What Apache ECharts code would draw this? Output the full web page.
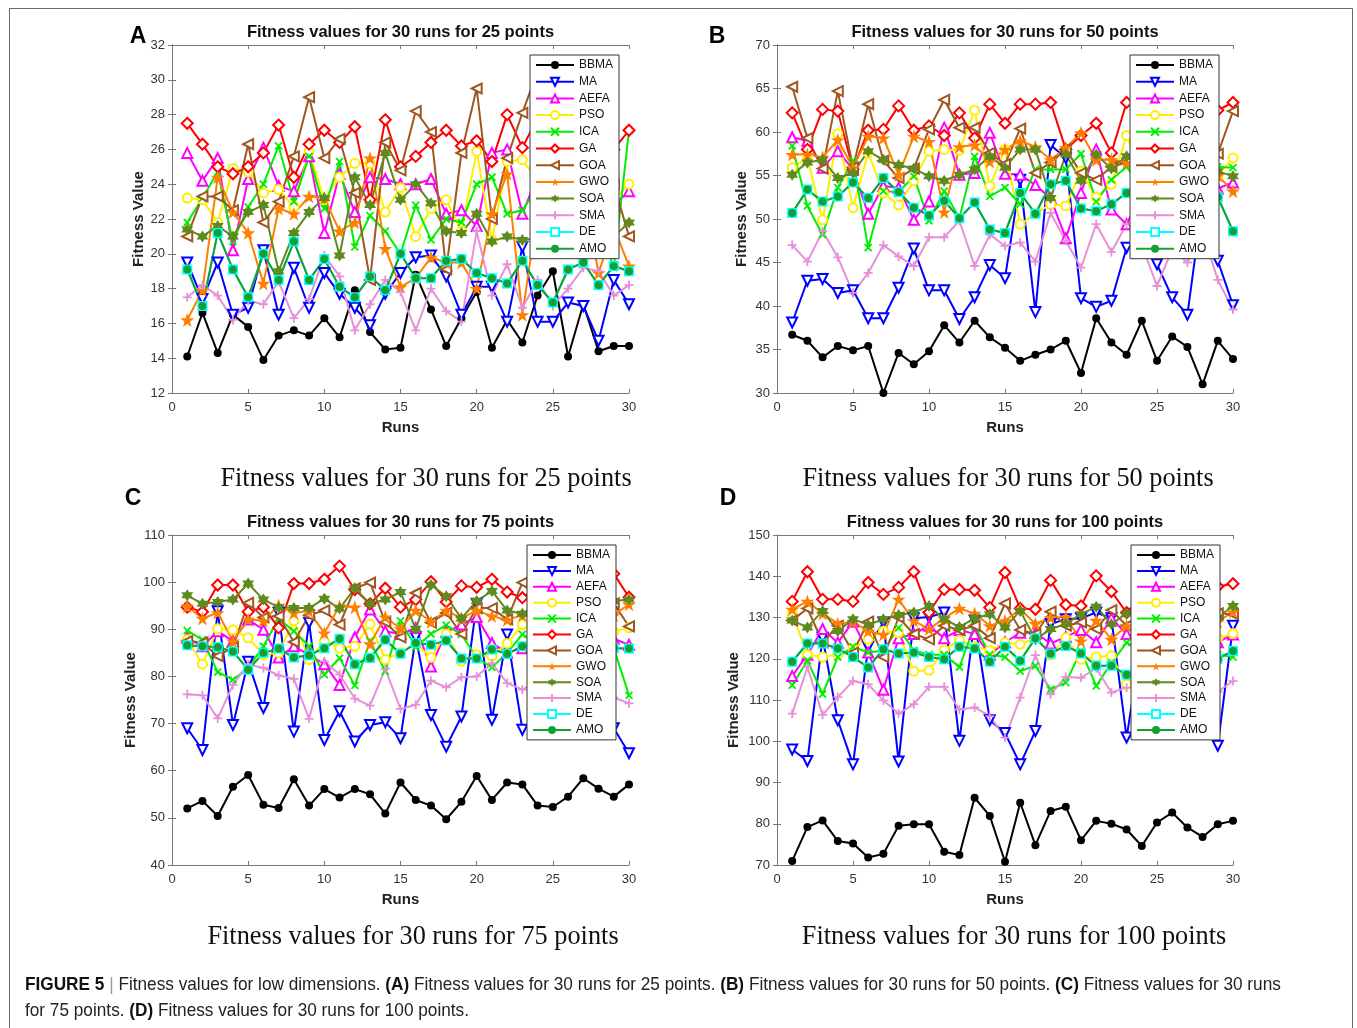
<!DOCTYPE html>
<html>
<head>
<meta charset="utf-8">
<script src="https://cdn.jsdelivr.net/npm/echarts@6/dist/echarts.min.js"></script>
<style>
html,body{margin:0;padding:0;background:#fff;}
#chart{width:1357px;height:1028px;}
</style>
</head>
<body>
<div id="chart"></div>
<script>
const runs = [1,2,3,4,5,6,7,8,9,10,11,12,13,14,15,16,17,18,19,20,21,22,23,24,25,26,27,28,29,30];
const seriesNames = ['BBMA','MA','AEFA','PSO','ICA','GA','GOA','GWO','SOA','SMA','DE','AMO'];
const yTicksA = [12,14,16,18,20,22,24,26,28,30,32];
const yTicksB = [30,35,40,45,50,55,60,65,70];
const yTicksC = [40,50,60,70,80,90,100,110];
const yTicksD = [70,80,90,100,110,120,130,140,150];
const xTicks = [0,5,10,15,20,25,30];

// Panel A: 25 points
const A_BBMA = [14.1,16.6,14.3,16.5,15.8,13.9,15.3,15.6,15.3,16.3,15.2,17.9,15.5,14.5,14.6,18.8,16.8,14.7,16.3,17.8,14.6,16.2,14.9,17.6,19.0,14.1,17.1,14.4,14.7,14.7];
const A_MA = [19.5,17.4,19.5,16.5,16.9,20.2,16.5,19.2,16.9,18.9,17.7,16.9,15.9,17.7,18.9,19.8,19.9,18.7,16.5,18.1,18.1,16.1,20.4,16.1,16.1,17.2,17.0,15.0,18.5,17.1];
const A_AEFA = [25.8,24.2,25.5,20.2,24.3,26.1,23.9,23.6,25.6,21.2,24.6,22.4,24.4,24.3,24.0,24.0,24.3,22.3,22.5,21.6,25.8,26.0,22.3,24.5,23.0,25.0,23.8,24.6,22.8,23.6];
const A_PSO = [23.2,23.1,21.8,24.9,24.7,23.5,23.7,22.7,25.9,23.1,24.4,25.2,25.2,22.4,23.8,21.0,22.6,23.1,21.3,25.9,20.8,25.3,25.4,24.2,22.8,25.6,24.0,22.5,23.1,24.0];
const A_ICA = [21.8,23.2,24.7,20.7,22.7,24.0,26.2,23.0,25.6,22.6,25.3,20.4,22.2,21.3,20.0,22.8,20.8,22.0,21.8,24.0,24.4,22.3,22.5,23.8,21.2,22.6,20.5,21.7,19.2,27.1];
const A_GA = [27.5,26.3,25.0,24.6,25.0,25.8,27.4,24.4,26.3,27.1,26.4,27.3,23.1,27.7,25.0,25.6,26.4,27.1,26.2,26.5,25.3,28.0,26.1,27.8,26.0,28.5,25.8,27.2,26.0,27.1];
const A_GOA = [21.0,23.3,23.3,22.5,26.3,21.8,23.0,25.6,29.0,25.5,26.6,23.5,18.5,26.4,24.8,28.2,27.0,19.1,25.8,29.5,22.0,25.5,28.1,30.5,26.5,23.5,28.7,25.0,24.0,21.0];
const A_GWO = [16.2,17.9,24.4,22.4,21.2,18.3,22.6,22.3,23.3,23.2,21.3,21.8,25.5,20.3,18.1,18.6,19.8,19.5,19.5,18.0,22.3,24.6,16.5,22.5,24.0,21.0,23.5,18.9,21.5,19.3];
const A_SOA = [21.4,21.0,21.6,21.0,22.4,22.8,19.0,21.2,22.4,23.2,19.9,24.4,22.8,25.8,23.1,24.0,22.9,21.3,21.2,22.3,20.7,21.0,20.8,20.9,20.5,21.5,20.8,22.5,21.0,21.8];
const A_SMA = [17.5,18.2,17.6,16.2,17.3,17.1,18.4,16.3,17.4,19.9,18.7,15.6,17.1,18.5,17.8,15.6,18.0,16.7,16.1,21.3,17.6,19.4,16.9,18.5,17.0,18.0,19.2,19.0,17.6,18.2];
const A_DE = [19.1,17.0,21.2,19.1,17.5,20.0,18.5,20.7,18.5,19.7,18.1,17.5,18.7,17.9,20.0,18.6,18.6,19.6,19.7,18.9,18.6,18.3,19.6,18.2,17.2,19.1,19.5,18.2,19.3,19.0];
const A_AMO = [19.1,17.0,21.2,19.1,17.5,20.0,18.5,20.7,18.5,19.7,18.1,17.5,18.7,17.9,20.0,18.6,18.6,19.6,19.7,18.9,18.6,18.3,19.6,18.2,17.2,19.1,19.5,18.2,19.3,19.0];

// Panel B: 50 points
const B_BBMA = [36.7,36.0,34.1,35.4,34.9,35.4,30.0,34.6,33.3,34.8,37.8,35.8,38.3,36.4,35.2,33.7,34.4,35.0,36.0,32.3,38.6,35.8,34.4,38.3,33.7,36.5,35.3,31.0,36.0,33.9];
const B_MA = [38.1,42.9,43.1,41.5,41.8,38.6,38.6,42.1,46.6,41.8,41.8,38.5,41.0,44.7,43.2,54.5,39.3,58.5,57.0,40.9,39.9,40.6,46.7,48.0,44.8,41.0,39.0,52.0,45.2,40.1];
const B_AEFA = [59.4,59.0,55.9,57.8,55.7,50.6,53.8,53.6,49.9,52.0,60.5,55.1,55.3,59.9,55.2,55.1,53.9,52.4,47.8,53.0,58.0,51.1,49.4,53.0,56.0,52.0,55.0,54.0,53.5,54.2];
const B_PSO = [55.9,57.0,49.9,59.8,51.3,57.6,53.0,51.6,54.4,57.8,58.0,57.9,62.5,53.8,58.0,49.4,50.6,51.7,51.5,55.5,52.5,54.0,59.6,55.0,57.5,54.0,56.0,55.5,55.0,57.0];
const B_ICA = [58.4,51.5,48.2,53.6,56.7,46.7,53.2,53.1,54.9,49.8,53.2,50.1,57.2,52.6,53.6,51.7,55.7,55.7,55.7,57.5,52.0,54.5,56.0,53.5,55.0,52.5,54.0,55.5,56.0,55.9];
const B_GA = [62.2,58.0,62.6,62.4,55.7,60.2,60.3,63.0,60.2,60.7,59.6,62.2,59.3,63.2,61.0,63.2,63.2,63.4,58.0,59.6,61.0,57.6,63.4,62.0,60.5,63.0,59.5,61.5,62.5,63.4];
const B_GOA = [65.2,59.3,55.8,64.7,55.9,63.2,56.7,54.7,55.8,60.3,63.7,60.5,60.5,57.6,56.3,60.4,55.3,56.5,58.0,55.3,54.5,56.0,56.5,58.0,60.0,57.0,56.0,58.5,57.5,62.4];
const B_GWO = [57.4,57.4,57.1,59.1,55.9,59.5,59.3,55.1,59.5,58.9,50.8,58.3,58.5,56.6,58.0,59.0,58.3,56.8,58.2,59.9,56.8,56.8,56.5,57.0,58.0,55.5,57.5,56.5,55.0,53.2];
const B_SOA = [55.1,56.5,56.8,54.7,55.3,57.8,56.8,56.2,55.8,54.9,54.4,55.1,55.7,57.2,55.9,58.0,58.0,52.4,57.4,54.4,57.4,55.8,57.2,56.0,55.5,56.5,55.0,56.0,55.5,54.9];
const B_SMA = [47.0,45.1,48.6,45.6,41.5,43.8,47.0,45.7,44.6,47.9,47.9,49.8,44.6,48.2,46.9,47.3,45.1,50.7,47.5,44.4,49.4,46.2,49.4,47.0,42.3,46.5,45.0,48.5,43.0,39.6];
const B_DE = [50.7,53.4,52.0,52.6,54.2,52.4,54.7,53.1,51.3,50.4,52.1,50.1,51.9,48.8,48.4,53.0,50.6,54.0,54.4,51.2,50.9,51.7,53.0,52.5,51.5,53.0,52.0,51.0,52.5,48.6];
const B_AMO = [50.7,53.4,52.0,52.6,54.2,52.4,54.7,53.1,51.3,50.4,52.1,50.1,51.9,48.8,48.4,53.0,50.6,54.0,54.4,51.2,50.9,51.7,53.0,52.5,51.5,53.0,52.0,51.0,52.5,48.6];

// Panel C: 75 points
const C_BBMA = [52.0,53.6,50.4,56.6,59.1,52.8,52.1,58.2,52.6,56.1,54.3,56.1,55.0,50.9,57.5,53.8,52.6,49.7,53.4,58.9,53.8,57.5,57.1,52.6,52.3,54.5,58.4,56.2,54.5,57.1];
const C_MA = [69.0,64.4,93.8,69.7,83.1,73.3,93.5,68.3,91.4,66.5,72.6,66.2,69.7,70.3,66.9,88.3,71.8,65.1,71.5,95.4,70.8,88.9,68.7,72.0,88.0,70.0,86.0,72.0,69.0,63.7];
const C_AEFA = [88.2,86.4,89.6,87.5,92.1,89.9,84.0,86.4,84.6,82.6,78.2,88.3,94.2,89.6,89.0,90.3,82.1,89.4,91.0,92.6,87.1,85.0,86.0,87.0,88.5,86.0,87.5,89.0,88.0,86.7];
const C_PSO = [87.8,82.6,90.1,89.9,88.2,84.6,85.0,91.8,83.6,87.5,86.0,86.4,91.1,83.6,85.0,87.0,84.0,89.0,83.2,84.6,84.3,87.0,91.0,88.0,86.5,89.0,87.0,88.5,89.5,90.3];
const C_ICA = [89.7,87.8,80.9,79.3,81.8,86.4,92.3,89.6,86.4,80.4,83.9,78.1,87.5,81.1,91.8,86.2,89.0,90.9,88.9,84.0,81.9,85.0,88.9,87.0,89.0,86.0,88.0,87.5,86.0,76.0];
const C_GA = [94.7,93.7,99.4,99.4,93.7,94.7,90.3,99.7,99.7,100.6,103.4,98.4,95.4,98.7,94.7,96.3,100.1,95.8,99.2,98.9,100.6,97.9,96.7,99.0,97.5,100.5,98.5,100.0,101.8,96.8];
const C_GOA = [87.5,87.2,84.3,86.2,95.6,92.5,92.8,87.3,93.0,94.0,91.0,98.7,99.9,91.5,88.3,97.7,91.4,93.5,89.0,94.5,94.5,92.1,99.9,96.0,95.0,97.5,94.0,96.0,95.5,90.6];
const C_GWO = [94.9,92.3,93.5,87.5,92.1,91.8,95.1,93.5,93.8,89.2,94.9,94.7,86.9,92.6,90.1,94.0,91.6,94.0,92.3,94.0,92.8,92.0,93.0,92.5,94.0,93.5,92.0,94.5,93.0,95.3];
const C_SOA = [97.2,95.4,95.8,96.3,99.7,96.3,94.7,94.5,94.5,96.5,94.4,98.7,95.4,96.3,97.9,90.1,99.4,97.0,92.3,96.0,98.1,94.0,93.3,95.5,97.0,94.5,96.5,95.0,96.0,96.3];
const C_SMA = [76.2,76.0,71.1,78.2,82.6,81.8,80.2,79.5,71.0,83.2,80.4,75.3,73.8,81.6,73.1,74.0,79.1,77.7,79.8,80.0,82.8,78.6,77.2,79.0,77.5,79.5,78.0,76.5,75.5,74.3];
const C_DE = [86.6,86.4,86.2,85.3,81.4,85.0,85.9,84.0,84.5,86.0,88.0,82.6,83.9,87.8,84.8,87.1,86.7,87.6,83.8,83.8,85.7,84.8,86.4,85.5,86.0,84.5,86.5,85.0,86.0,85.9];
const C_AMO = [86.6,86.4,86.2,85.3,81.4,85.0,85.9,84.0,84.5,86.0,88.0,82.6,83.9,87.8,84.8,87.1,86.7,87.6,83.8,83.8,85.7,84.8,86.4,85.5,86.0,84.5,86.5,85.0,86.0,85.9];

// Panel D: 100 points
const D_BBMA = [71.0,79.2,80.8,75.8,75.2,71.8,72.7,79.5,79.9,79.9,73.2,72.4,86.3,81.9,70.8,85.1,74.8,83.1,84.1,76.0,80.7,80.0,78.6,74.6,80.3,82.7,79.1,76.8,79.9,80.7];
const D_MA = [98.0,95.2,125.1,105.1,94.4,122.9,128.8,95.1,129.8,130.1,131.2,100.1,129.3,105.1,102.0,94.4,102.5,128.4,129.6,129.8,131.2,129.8,100.9,125.0,120.0,128.0,126.0,122.0,98.9,128.0];
const D_AEFA = [115.8,121.0,127.2,123.9,129.0,121.5,112.5,125.0,126.0,128.0,125.0,127.0,126.0,121.0,124.0,126.3,126.3,123.7,125.3,127.0,124.0,129.8,126.0,125.0,127.0,124.5,126.0,125.0,124.0,125.9];
const D_PSO = [131.0,121.0,120.4,121.0,122.5,124.7,126.7,126.3,117.0,117.2,122.1,124.5,123.0,122.0,123.9,123.5,125.1,120.9,125.1,119.9,120.4,120.7,113.8,121.0,123.0,122.0,121.5,124.0,125.0,126.1];
const D_ICA = [113.6,119.6,111.4,120.4,122.9,121.5,122.0,127.5,122.0,121.0,121.0,118.0,128.0,121.0,120.4,117.0,118.3,112.6,114.2,121.9,113.4,119.0,123.9,122.0,120.0,121.5,119.0,120.5,121.0,120.4];
const D_GA = [133.9,141.1,134.4,134.4,133.9,138.5,135.6,137.3,141.1,131.2,136.8,136.8,136.6,132.4,140.9,132.2,132.0,139.0,133.1,132.8,140.1,136.3,131.2,135.0,137.0,134.0,136.5,135.0,137.5,138.2];
const D_GOA = [129.3,132.2,124.0,128.0,121.5,129.0,120.4,130.0,126.0,124.7,128.0,127.0,128.0,125.0,133.4,127.0,126.0,131.4,128.0,128.8,127.2,131.8,128.0,129.0,130.5,128.5,129.5,130.0,131.0,130.8];
const D_GWO = [132.0,133.9,131.0,128.5,129.0,126.7,125.9,134.4,129.2,127.2,129.8,132.2,131.0,128.0,129.2,132.0,128.5,130.0,130.1,124.3,129.3,124.7,128.0,127.5,129.0,128.0,130.5,127.0,129.0,131.4];
const D_SOA = [129.3,127.6,131.6,126.7,129.6,128.2,129.6,130.6,131.2,132.8,129.6,127.7,129.8,130.8,127.6,131.6,124.7,127.2,128.4,130.8,132.6,128.4,131.0,130.0,129.5,131.0,129.0,130.5,130.0,132.8];
const D_SMA = [106.7,118.0,106.4,110.7,114.6,113.8,109.9,106.7,109.0,113.2,113.2,107.7,108.2,106.1,100.9,110.6,120.9,111.4,115.6,115.4,117.7,111.8,113.0,116.0,112.0,114.0,113.5,115.0,112.0,114.6];
const D_DE = [119.3,123.7,123.7,122.5,120.4,117.9,122.3,121.3,121.5,120.4,119.9,122.9,122.5,119.3,122.9,119.5,125.0,121.3,123.1,121.3,118.3,118.3,116.1,119.0,118.0,120.5,119.5,121.0,120.0,121.9];
const D_AMO = [119.3,123.7,123.7,122.5,120.4,117.9,122.3,121.3,121.5,120.4,119.9,122.9,122.5,119.3,122.9,119.5,125.0,121.3,123.1,121.3,118.3,118.3,116.1,119.0,118.0,120.5,119.5,121.0,120.0,121.9];

const panelTitles = ['Fitness values for 30 runs for 25 points','Fitness values for 30 runs for 50 points','Fitness values for 30 runs for 75 points','Fitness values for 30 runs for 100 points'];
const panelLetters = ['A','B','C','D'];

// ---------- presentation ----------
const panels = [
  {data:{BBMA:A_BBMA,MA:A_MA,AEFA:A_AEFA,PSO:A_PSO,ICA:A_ICA,GA:A_GA,GOA:A_GOA,GWO:A_GWO,SOA:A_SOA,SMA:A_SMA,DE:A_DE,AMO:A_AMO}, ticks:yTicksA,
   grid:{left:172,top:45,width:457,height:348}, legend:{left:530,top:55,gap:4.7}, nameGap:24, letter:[138,37], cap:[426,479]},
  {data:{BBMA:B_BBMA,MA:B_MA,AEFA:B_AEFA,PSO:B_PSO,ICA:B_ICA,GA:B_GA,GOA:B_GOA,GWO:B_GWO,SOA:B_SOA,SMA:B_SMA,DE:B_DE,AMO:B_AMO}, ticks:yTicksB,
   grid:{left:777,top:45,width:456,height:348}, legend:{left:1130,top:55,gap:4.7}, nameGap:28, letter:[717,37], cap:[1008,479]},
  {data:{BBMA:C_BBMA,MA:C_MA,AEFA:C_AEFA,PSO:C_PSO,ICA:C_ICA,GA:C_GA,GOA:C_GOA,GWO:C_GWO,SOA:C_SOA,SMA:C_SMA,DE:C_DE,AMO:C_AMO}, ticks:yTicksC,
   grid:{left:172,top:535,width:457,height:330}, legend:{left:527,top:545,gap:3.9}, nameGap:34, letter:[133,499], cap:[413,937]},
  {data:{BBMA:D_BBMA,MA:D_MA,AEFA:D_AEFA,PSO:D_PSO,ICA:D_ICA,GA:D_GA,GOA:D_GOA,GWO:D_GWO,SOA:D_SOA,SMA:D_SMA,DE:D_DE,AMO:D_AMO}, ticks:yTicksD,
   grid:{left:777,top:535,width:456,height:330}, legend:{left:1131,top:545,gap:3.9}, nameGap:36, letter:[728,499], cap:[1014,937]}
];

const STAR5 = 'path://M50,0 L61.8,35.1 L98.1,35.1 L68.8,56.7 L79.4,90.5 L50,69.5 L20.6,90.5 L31.2,56.7 L1.9,35.1 L38.2,35.1 Z';
const HEX6 = 'path://M50,0 L64.4,25 L93.3,25 L78.9,50 L93.3,75 L64.4,75 L50,100 L35.6,75 L6.7,75 L21.1,50 L6.7,25 L35.6,25 Z';
const XMARK = 'path://M0,0 L100,100 M100,0 L0,100';
const PLUS = 'path://M50,0 L50,100 M0,50 L100,50';
const styles = {
  BBMA:{color:'#000000', symbol:'circle', size:8},
  MA:{color:'#0000ff', symbol:'emptyTriangle', size:10, rotate:180},
  AEFA:{color:'#ff00ff', symbol:'emptyTriangle', size:10},
  PSO:{color:'#ffee00', symbol:'emptyCircle', size:9},
  ICA:{color:'#00ee00', symbol:XMARK, size:7, stroke:true},
  GA:{color:'#ff0000', symbol:'emptyDiamond', size:11},
  GOA:{color:'#a0561f', symbol:'emptyTriangle', size:10, rotate:90},
  GWO:{color:'#ff7f00', symbol:STAR5, size:14},
  SOA:{color:'#5f8a1c', symbol:HEX6, size:12},
  SMA:{color:'#e690d8', symbol:PLUS, size:9, stroke:true},
  DE:{color:'#00ffff', symbol:'emptyRect', size:8},
  AMO:{color:'#14a030', symbol:'circle', size:8}
};

const FONT = '"Liberation Sans", Arial, Helvetica, sans-serif';
const grids = [], xAxes = [], yAxes = [], series = [], legends = [], graphics = [];

panels.forEach((p, pi) => {
  grids.push(Object.assign({containLabel:false}, p.grid));
  const axisLine = {show:true, lineStyle:{color:'#777', width:1}};
  const tick = {show:true, inside:true, length:4, lineStyle:{color:'#777'}};
  xAxes.push({type:'value', gridIndex:pi, min:xTicks[0], max:xTicks[xTicks.length-1], interval:xTicks[1]-xTicks[0],
    axisLine, axisTick:tick, splitLine:{show:false},
    axisLabel:{color:'#333', fontSize:13, fontFamily:FONT, margin:8},
    name:'Runs', nameLocation:'middle', nameGap:27, nameTextStyle:{fontWeight:'bold', fontSize:15, color:'#222', fontFamily:FONT}});
  xAxes.push({type:'value', gridIndex:pi, position:'top', min:xTicks[0], max:xTicks[xTicks.length-1], interval:xTicks[1]-xTicks[0],
    axisLine, axisTick:tick, axisLabel:{show:false}, splitLine:{show:false}});
  const t = p.ticks;
  yAxes.push({type:'value', gridIndex:pi, min:t[0], max:t[t.length-1], interval:t[1]-t[0],
    axisLine, axisTick:tick, splitLine:{show:false},
    axisLabel:{color:'#333', fontSize:13, fontFamily:FONT, margin:7},
    name:'Fitness Value', nameLocation:'middle', nameGap:p.nameGap, nameRotate:90,
    nameTextStyle:{fontWeight:'bold', fontSize:15, color:'#222', fontFamily:FONT}});
  yAxes.push({type:'value', gridIndex:pi, position:'right', min:t[0], max:t[t.length-1], interval:t[1]-t[0],
    axisLine, axisTick:tick, axisLabel:{show:false}, splitLine:{show:false}});

  seriesNames.forEach(n => {
    const s = styles[n];
    const vals = p.data[n];
    const itemStyle = s.stroke ? {color:s.color, borderColor:s.color, borderWidth:1.8} : {color:s.color};
    series.push({
      type:'line', name:n, xAxisIndex:pi*2, yAxisIndex:pi*2,
      data: runs.map((r, i) => [r, vals[i]]),
      symbol:s.symbol, symbolSize:s.size, symbolRotate:s.rotate || 0, showAllSymbol:true,
      lineStyle:{color:s.color, width:2}, itemStyle, emphasis:{disabled:true}, silent:true
    });
  });

  legends.push({orient:'vertical', left:p.legend.left, top:p.legend.top, data:seriesNames,
    itemWidth:38, itemHeight:10, itemGap:p.legend.gap, selectedMode:false,
    backgroundColor:'#fff', borderColor:'#333', borderWidth:1, padding:[4,6,4,5],
    textStyle:{fontSize:12, color:'#111', fontFamily:FONT}});

  const cx = p.grid.left + p.grid.width / 2;
  graphics.push({type:'text', x:cx, y:p.grid.top - 13, z:10,
    style:{text:panelTitles[pi], fontSize:16.5, fontWeight:'bold', fontFamily:FONT, fill:'#111',
      align:'center', verticalAlign:'middle', textAlign:'center', textVerticalAlign:'middle'}});
  graphics.push({type:'text', x:p.letter[0], y:p.letter[1], z:10,
    style:{text:panelLetters[pi], fontSize:23, fontWeight:'bold', fontFamily:FONT, fill:'#000',
      align:'center', verticalAlign:'middle', textAlign:'center', textVerticalAlign:'middle'}});
  graphics.push({type:'text', x:p.cap[0], y:p.cap[1], z:10,
    style:{text:panelTitles[pi], fontSize:26.3, fontFamily:'"Liberation Serif", "Times New Roman", serif', fill:'#111',
      align:'center', verticalAlign:'middle', textAlign:'center', textVerticalAlign:'middle'}});
});

// outer frame
graphics.push({type:'rect', z:0, shape:{x:9.5, y:8.5, width:1343, height:1040}, style:{fill:'none', stroke:'#666', lineWidth:1}});

const capRich = {
  b:{fontWeight:'bold', fontSize:19, fontFamily:FONT, fill:'#111'},
  g:{fontSize:19, fontFamily:FONT, fill:'#999'},
  n:{fontSize:19, fontFamily:FONT, fill:'#222'}
};
graphics.push({type:'text', x:25, y:985, scaleX:0.906, z:10,
  style:{text:'{b|FIGURE 5}{g| | }{n|Fitness values for low dimensions. }{b|(A)}{n| Fitness values for 30 runs for 25 points. }{b|(B)}{n| Fitness values for 30 runs for 50 points. }{b|(C)}{n| Fitness values for 30 runs}',
    rich:capRich, fontSize:19, fontFamily:FONT, fill:'#222', align:'left', verticalAlign:'middle', textAlign:'left', textVerticalAlign:'middle'}});
graphics.push({type:'text', x:25, y:1011, scaleX:0.906, z:10,
  style:{text:'{n|for 75 points. }{b|(D)}{n| Fitness values for 30 runs for 100 points.}',
    rich:capRich, fontSize:19, fontFamily:FONT, fill:'#222', align:'left', verticalAlign:'middle', textAlign:'left', textVerticalAlign:'middle'}});

const chart = echarts.init(document.getElementById('chart'), null, {renderer:'canvas'});
chart.setOption({
  animation:false,
  backgroundColor:'#fff',
  grid:grids, xAxis:xAxes, yAxis:yAxes, series, legend:legends, graphic:graphics
});
</script>
</body>
</html>
